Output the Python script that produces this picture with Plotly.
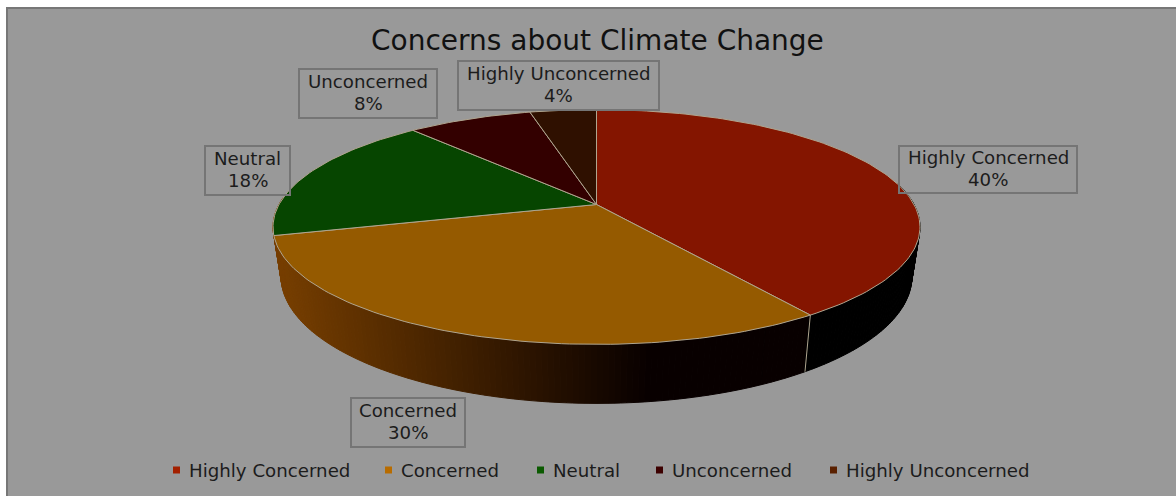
import math
import plotly.graph_objects as go

# ---- data ----
labels = ["Highly Concerned", "Concerned", "Neutral", "Unconcerned", "Highly Unconcerned"]
percent_labels = [40, 30, 18, 8, 4]
slice_shares = [40.4, 30.4, 17.7, 7.5, 4.0]
title_text = "Concerns about Climate Change"

# ---- style ----
top_colors = ["#841500", "#955A00", "#064500", "#330000", "#2F1000"]
legend_colors = ["#A32000", "#B86C00", "#0A5A00", "#3C0000", "#5A2000"]
sep = "#B0A58F"
ink = "#1C1C1C"
FONT = "DejaVu Sans"
W, H = 1176, 496
CX, RX, C, A, B = 596.5, 317.5, -0.1915, 73.94, 204.5
DEPTH, XSHRINK = 47.7, 0.975


def top_point(pct):
    th = 2 * math.pi * pct / 100
    u, v = math.sin(th), -math.cos(th)
    d = 1 + C * v
    return CX + RX * u / d, (A * v + B) / d


def bottom_point(pct):
    th = 2 * math.pi * pct / 100
    v = -math.cos(th)
    x, y = top_point(pct)
    return CX + (x - CX) * XSHRINK, y + DEPTH / (1 + C * v)


def side_colour(x, pct):
    if pct < slice_shares[0]:
        return "#000000"
    t = min(max((x - 280) / 370, 0), 1)
    return "rgb(%d,%d,%d)" % (118 * (1 - t) + 8 * t, 62 * (1 - t), 0)


fig = go.Figure()

# side wall, as thin quads so the gradient follows the rim
p = 22.0
while p < 76:
    q = p + 0.25
    x0, y0 = top_point(p)
    x1, y1 = top_point(q)
    x2, y2 = bottom_point(q)
    x3, y3 = bottom_point(p)
    c = side_colour((x0 + x1) / 2, p)
    fig.add_trace(go.Scatter(x=[x0, x1, x2, x3, x0], y=[y0, y1, y2, y3, y0], mode="lines",
                             fill="toself", fillcolor=c, line=dict(color=c, width=1),
                             hoverinfo="skip", showlegend=False))
    p = q

# separator on the wall at the end of the first slice
a, b = top_point(slice_shares[0]), bottom_point(slice_shares[0])
fig.add_trace(go.Scatter(x=[a[0], b[0]], y=[a[1], b[1]], mode="lines",
                         line=dict(color=sep, width=1), hoverinfo="skip", showlegend=False))

# top faces
start = 0
for name, val, col in zip(labels, slice_shares, top_colors):
    n = max(int(val * 3), 8)
    pts = [top_point(start + val * i / n) for i in range(n + 1)]
    xs = [CX] + [pt[0] for pt in pts] + [CX]
    ys = [B] + [pt[1] for pt in pts] + [B]
    fig.add_trace(go.Scatter(x=xs, y=ys, mode="lines", fill="toself", fillcolor=col,
                             line=dict(color=sep, width=1), name=name,
                             hoverinfo="name", showlegend=False))
    start += val

# label boxes: (left, top, right, bottom) in page pixels
boxes = [(899, 146, 1077, 193), (351, 398, 465, 447), (205, 146, 290, 195),
         (299, 69, 437, 118), (458, 61, 659, 110)]
annotations = []
shapes = [
    dict(type="rect", x0=7, x1=W + 5, y0=8, y1=H + 5, xref="x", yref="y",
         fillcolor="#999999", line=dict(color="#777777", width=2), layer="below"),
]
for name, val, (l, t, r, bm) in zip(labels, percent_labels, boxes):
    shapes.append(dict(type="rect", x0=l, x1=r, y0=t, y1=bm, xref="x", yref="y",
                       line=dict(color="#757575", width=2), layer="above"))
    mid = (t + bm) / 2
    for text, dy in ((name, -12), (f"{val}%", 10)):
        annotations.append(dict(x=(l + r) / 2, y=mid + dy, xref="x", yref="y",
                                text=text, showarrow=False, align="center",
                                font=dict(family=FONT, size=18.2, color=ink)))

annotations.append(dict(x=597.5, y=40, xref="x", yref="y", text=title_text, showarrow=False,
                        font=dict(family=FONT, size=28, color="#111111")))

# legend
legend_x = [177, 389, 541, 660, 834]
for name, col, lx in zip(labels, legend_colors, legend_x):
    shapes.append(dict(type="rect", x0=lx - 4, x1=lx + 3, y0=466.5, y1=473.5, xref="x", yref="y",
                       fillcolor=col, line=dict(width=0), layer="above"))
    annotations.append(dict(x=lx + 10, y=470, xref="x", yref="y", text=name, showarrow=False,
                            xanchor="left", font=dict(family=FONT, size=18.2, color=ink)))

fig.update_layout(
    width=W, height=H, margin=dict(l=0, r=0, t=0, b=0),
    paper_bgcolor="#FFFFFF", plot_bgcolor="rgba(0,0,0,0)", showlegend=False,
    xaxis=dict(range=[0, W], visible=False, fixedrange=True),
    yaxis=dict(range=[H, 0], visible=False, fixedrange=True),
    shapes=shapes, annotations=annotations,
)
fig.write_html("out.html", config=dict(displayModeBar=False),
               post_script="document.body.style.margin='0';document.body.style.overflow='hidden';")
